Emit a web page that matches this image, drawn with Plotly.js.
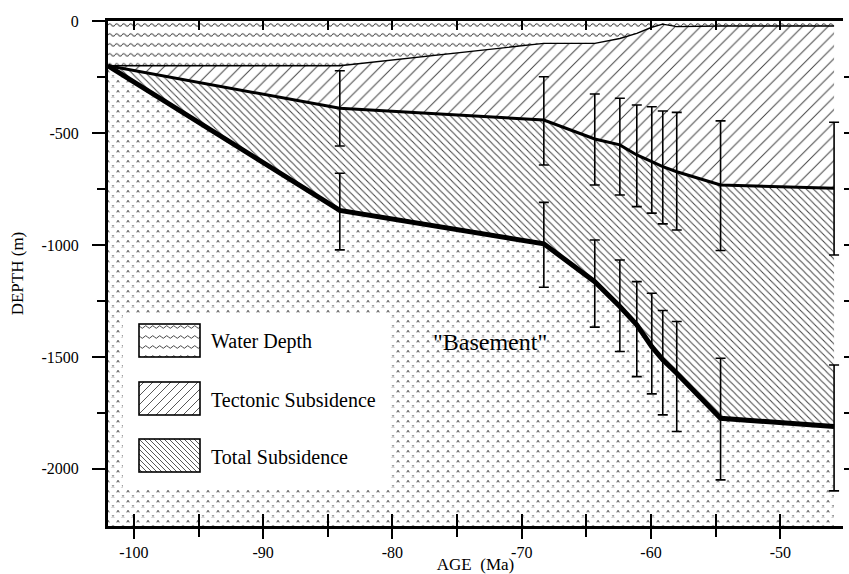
<!DOCTYPE html>
<html><head><meta charset="utf-8">
<script src="https://cdn.plot.ly/plotly-3.0.1.min.js"></script>
<style>body{margin:0;background:#fff}</style>
</head><body><div id="chart" style="width:849px;height:574px"></div>
<script>
// ---- data ----
const ages       = [-102, -84.07, -68.29, -64.35, -62.41, -61.10, -59.94, -59.09, -58.01, -54.62, -45.84];
const waterDepth = [-200, -200, -100, -100, -78, -55, -28, -14, -25, -22, -22];
const tectonic   = [-200, -390, -442, -527, -553, -598, -628, -650, -673, -732, -747];
const totalSub   = [-200, -846, -995, -1164, -1275, -1357, -1454, -1513, -1573, -1774, -1811];
// error bar extents for the sampled ages (ages[1..])
const tecTop = [-222, -249, -326, -345, -375, -383, -402, -408, -446, -452];
const tecBot = [-558, -643, -732, -777, -829, -858, -906, -933, -1025, -1045];
const totTop = [-680, -810, -978, -1067, -1164, -1216, -1293, -1342, -1506, -1536];
const totBot = [-1022, -1189, -1367, -1476, -1588, -1665, -1759, -1833, -2049, -2098];
const xTickVals = [-100, -90, -80, -70, -60, -50];
const xTickText = ['-100', '-90', '-80', '-70', '-60', '-50'];
const yTickVals = [0, -500, -1000, -1500, -2000];
const yTickText = ['0', '-500', '-1000', '-1500', '-2000'];
const legendLabels = ['Water Depth', 'Tectonic Subsidence', 'Total Subsidence'];

const X0 = -102, X1 = -45.15, Y0 = -2255, Y1 = 0;
const W = 849, H = 574, ML = 108, MR = 6, MT = 21, MB = 48;
const PW = W - ML - MR, PH = H - MT - MB;

const sampleAges = ages.slice(1);
const tecC = tectonic.slice(1), totC = totalSub.slice(1);

const defs = `<defs>
<pattern id="wave" width="7" height="10" patternUnits="userSpaceOnUse"><path d="M0,4 Q1.75,1.4 3.5,4 T7,4" fill="none" stroke="#444" stroke-width="1"/></pattern>
<pattern id="base" width="10" height="10" patternUnits="userSpaceOnUse"><path d="M0,0 L10,10 M10,0 L0,10" stroke="#6a6a6a" stroke-width="1" stroke-dasharray="3 4.07" stroke-dashoffset="1" fill="none"/></pattern>
<pattern id="fwd" width="9" height="9" patternUnits="userSpaceOnUse"><path d="M0,9 L9,0 M-1,1 L1,-1 M8,10 L10,8" stroke="#444" stroke-width="0.9" fill="none"/></pattern>
<pattern id="back" width="5" height="5" patternUnits="userSpaceOnUse"><path d="M0,0 L5,5 M4,-1 L6,1 M-1,4 L1,6" stroke="#444" stroke-width="0.9" fill="none"/></pattern>
</defs>`;
function svgUri(w, h, body) {
  const s = `<svg xmlns="http://www.w3.org/2000/svg" width="${w}" height="${h}" viewBox="0 0 ${w} ${h}" preserveAspectRatio="none">${defs}${body}</svg>`;
  return 'data:image/svg+xml;base64,' + btoa(s);
}

const xEnd = ages[ages.length - 1];
const dataW = (xEnd - X0) / (X1 - X0) * PW;
const waterH = (0 - waterDepth[0]) / (Y1 - Y0) * PH;

const waterImg = svgUri(Math.round(dataW), Math.round(waterH),
  `<rect width="100%" height="100%" fill="#fff"/><rect width="100%" height="100%" fill="url(#wave)"/>`);
const baseImg = svgUri(Math.round(dataW), PH,
  `<rect width="100%" height="100%" fill="#fff"/><rect width="100%" height="100%" fill="url(#base)"/>`);

// legend box (pixel geometry)
const LB = {x: 123, y: 313, w: 267, h: 175};
const sw = {x: 16, w: 61, h: 33, ys: [11, 69, 126]};
const legendImg = svgUri(LB.w, LB.h,
  `<rect width="100%" height="100%" fill="#fff"/>` +
  ['wave', 'fwd', 'back'].map((p, i) =>
    `<rect x="${sw.x}" y="${sw.ys[i]}" width="${sw.w}" height="${sw.h}" fill="url(#${p})" stroke="#000" stroke-width="1.6"/>`).join(''));

const px2paperX = px => (px - ML) / PW;
const px2paperY = py => (H - MB - py) / PH;

const font = 'Liberation Serif, Times New Roman, serif';

const traces = [
  {x: ages, y: waterDepth, mode: 'lines', line: {color: '#000', width: 1.4}, hoverinfo: 'skip', showlegend: false},
  {x: ages, y: tectonic, mode: 'lines', line: {color: '#000', width: 3}, fill: 'tonexty',
   fillcolor: '#fff', fillpattern: {shape: '/', size: 9, solidity: 0.11, fgcolor: '#444', bgcolor: '#fff'},
   hoverinfo: 'skip', showlegend: false},
  {x: ages, y: totalSub, mode: 'lines', line: {color: '#000', width: 5}, fill: 'tonexty',
   fillcolor: '#fff', fillpattern: {shape: '\\', size: 5, solidity: 0.2, fgcolor: '#444', bgcolor: '#fff'},
   hoverinfo: 'skip', showlegend: false},
  {x: sampleAges, y: tecC, mode: 'markers', marker: {size: 1, color: 'rgba(0,0,0,0)'},
   error_y: {type: 'data', symmetric: false, array: tecTop.map((v, i) => v - tecC[i]),
             arrayminus: tecC.map((c, i) => c - tecBot[i]), color: '#000', thickness: 1.6, width: 5},
   hoverinfo: 'skip', showlegend: false},
  {x: sampleAges, y: totC, mode: 'markers', marker: {size: 1, color: 'rgba(0,0,0,0)'},
   error_y: {type: 'data', symmetric: false, array: totTop.map((v, i) => v - totC[i]),
             arrayminus: totC.map((c, i) => c - totBot[i]), color: '#000', thickness: 1.6, width: 5},
   hoverinfo: 'skip', showlegend: false},
  {x: [null], y: [null], xaxis: 'x2', yaxis: 'y', showlegend: false, hoverinfo: 'skip'},
  {x: [null], y: [null], xaxis: 'x3', yaxis: 'y', showlegend: false, hoverinfo: 'skip'},
  {x: [null], y: [null], xaxis: 'x', yaxis: 'y2', showlegend: false, hoverinfo: 'skip'}
];

const fives = [];
for (let v = -100; v <= -45; v += 5) fives.push(v);
const minorX = fives.filter(v => v % 10 !== 0);
const q = [];
for (let v = -250; v >= -2000; v -= 250) q.push(v);
const minorY = q.filter(v => v % 500 !== 0);

const layout = {
  width: W, height: H,
  margin: {l: ML, r: MR, t: MT, b: MB},
  paper_bgcolor: '#fff', plot_bgcolor: 'rgba(0,0,0,0)',
  showlegend: false,
  font: {family: font, color: '#000', size: 16},
  xaxis: {range: [X0, X1], showline: true, linewidth: 3, linecolor: '#000', mirror: false,
    ticks: 'outside', ticklen: 10, tickwidth: 2, tickcolor: '#000',
    tickvals: xTickVals, ticktext: xTickText, tickfont: {family: font, size: 16},
    minor: {tickvals: minorX, ticks: 'outside', ticklen: 8, tickwidth: 2, tickcolor: '#000', showgrid: false},
    showgrid: false, zeroline: false, fixedrange: true,
    title: {text: 'AGE\u00a0 (Ma)', font: {family: font, size: 17}, standoff: 2}},
  xaxis2: {range: [X0, X1], overlaying: 'x', side: 'bottom', anchor: 'y', showline: false,
    ticks: 'inside', ticklen: 12, tickwidth: 2, tickcolor: '#000', tickvals: fives,
    showticklabels: false, showgrid: false, zeroline: false},
  xaxis3: {range: [X0, X1], overlaying: 'x', side: 'top', anchor: 'y', showline: true, linewidth: 3, linecolor: '#000',
    ticks: 'inside', ticklen: 9, tickwidth: 2, tickcolor: '#000', tickvals: fives.filter(v => v <= -50),
    showticklabels: false, showgrid: false, zeroline: false},
  yaxis: {range: [Y0, Y1], showline: true, linewidth: 3, linecolor: '#000',
    ticks: 'outside', ticklen: 13, tickwidth: 2, tickcolor: '#000',
    tickvals: yTickVals, ticktext: yTickText, tickfont: {family: font, size: 16}, ticklabelstandoff: 10,
    minor: {tickvals: minorY, ticks: 'outside', ticklen: 8, tickwidth: 2, tickcolor: '#000', showgrid: false},
    showgrid: false, zeroline: false, fixedrange: true,
    title: {text: 'DEPTH (m)', font: {family: font, size: 17}, standoff: 14}},
  yaxis2: {range: [Y0, Y1], overlaying: 'y', side: 'right', anchor: 'x', showline: false,
    ticks: 'outside', ticklen: 6, tickwidth: 2, tickcolor: '#000', tickvals: q,
    showticklabels: false, showgrid: false, zeroline: false},
  images: [
    {source: baseImg, xref: 'x', yref: 'y', x: X0, y: Y1, sizex: xEnd - X0, sizey: Y1 - Y0,
     xanchor: 'left', yanchor: 'top', sizing: 'stretch', layer: 'below'},
    {source: waterImg, xref: 'x', yref: 'y', x: X0, y: Y1, sizex: xEnd - X0, sizey: 0 - waterDepth[0],
     xanchor: 'left', yanchor: 'top', sizing: 'stretch', layer: 'below'},
    {source: legendImg, xref: 'paper', yref: 'paper', x: px2paperX(LB.x), y: px2paperY(LB.y),
     sizex: LB.w / PW, sizey: LB.h / PH, xanchor: 'left', yanchor: 'top', sizing: 'stretch', layer: 'above'}
  ],
  annotations: legendLabels.map((t, i) => ({
    text: t, xref: 'paper', yref: 'paper', x: px2paperX(209), y: px2paperY(LB.y + sw.ys[i] + sw.h / 2 + 1),
    xanchor: 'left', yanchor: 'middle', showarrow: false, font: {family: font, size: 20, color: '#000'}
  })).concat([{
    text: '"Basement"', xref: 'paper', yref: 'paper', x: px2paperX(490), y: px2paperY(342),
    xanchor: 'center', yanchor: 'middle', showarrow: false, font: {family: font, size: 24, color: '#000'}
  }])
};

Plotly.newPlot('chart', traces, layout, {staticPlot: true, displayModeBar: false});
</script>
</body></html>
